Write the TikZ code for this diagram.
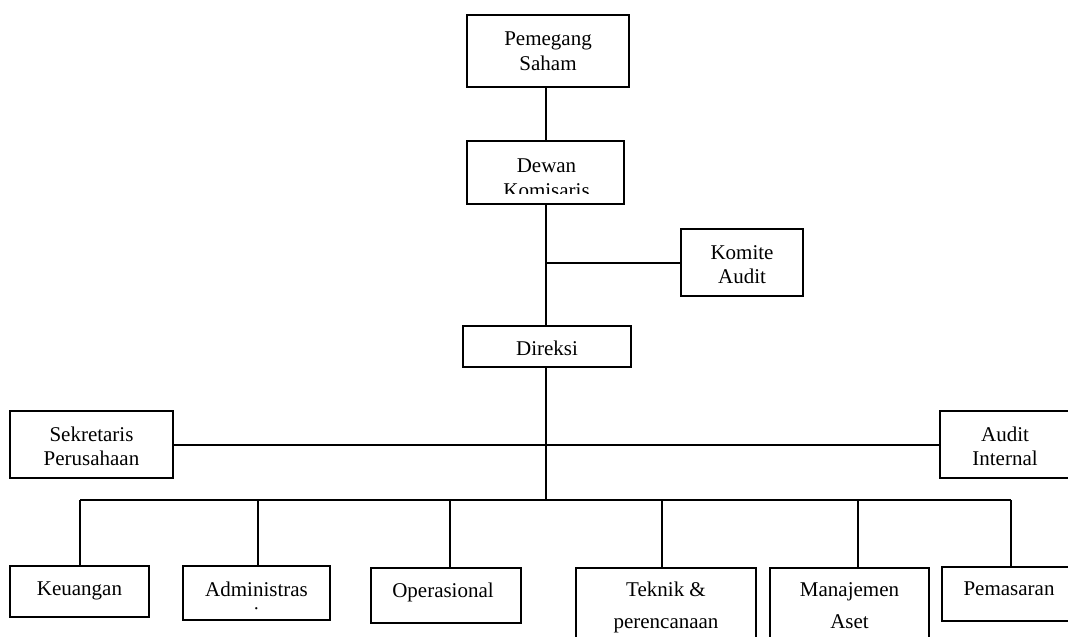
\documentclass[tikz,border=0pt]{standalone}
\usepackage{fontspec}
\setmainfont{Liberation Serif}
\begin{document}
\begin{tikzpicture}[x=1pt,y=-1pt,
  box/.style={draw,line width=2pt,rectangle,inner sep=0pt},
  wire/.style={line width=2pt},
  lbl/.style={align=center,inner sep=0pt,anchor=north,font=\fontsize{21}{#1}\selectfont},
  lbl/.default=24.5]
\useasboundingbox (0,0) rectangle (1068,637);
\clip (0,0) rectangle (1068,637);
\fill[white] (0,0) rectangle (1068,637);

% boxes
\node[box,minimum width=162pt,minimum height=72pt] (pem) at (548,51) {};
\node[box,minimum width=157pt,minimum height=63pt] (dew) at (545.5,172.5) {};
\node[box,minimum width=122pt,minimum height=67pt] (kom) at (742,262.5) {};
\node[box,minimum width=168pt,minimum height=41pt] (dir) at (547,346.5) {};
\node[box,minimum width=163pt,minimum height=67pt] (sek) at (91.5,444.5) {};
\node[box,minimum width=130pt,minimum height=67pt] (aud) at (1005,444.5) {};
\node[box,minimum width=139pt,minimum height=51pt] (keu) at (79.5,591.5) {};
\node[box,minimum width=147pt,minimum height=54pt] (adm) at (256.5,593) {};
\node[box,minimum width=150pt,minimum height=55pt] (ope) at (446,595.5) {};
\node[box,minimum width=180pt,minimum height=92pt] (tek) at (666,614) {};
\node[box,minimum width=159pt,minimum height=92pt] (man) at (849.5,614) {};
\node[box,minimum width=134pt,minimum height=54pt] (pmr) at (1009,594) {};

% labels
\node[lbl] (pemT) at ([yshift=-18pt]pem.north) {Pemegang\\Saham};
\begin{scope}
  \clip (467,141) rectangle (624,193);
  \node[lbl=25] (dewT) at ([yshift=-19pt,xshift=1pt]dew.north) {Dewan\\Komisaris};
\end{scope}
\node[lbl] (komT) at ([yshift=-17pt]kom.north) {Komite\\Audit};
\node[lbl] (dirT) at ([yshift=-16pt]dir.north) {Direksi};
\node[lbl=23.5] (sekT) at ([yshift=-17pt]sek.north) {Sekretaris\\Perusahaan};
\node[lbl=23.5] (audT) at ([yshift=-17pt]aud.north) {Audit\\Internal};
\node[lbl] (keuT) at ([yshift=-17pt]keu.north) {Keuangan};
\begin{scope}
  \clip (183,566) rectangle (330,610.5);
  \node[lbl=25] (admT) at ([yshift=-17pt]adm.north) {Administras\\i};
\end{scope}
\node[lbl] (opeT) at ([yshift=-16pt,xshift=-3pt]ope.north) {Operasional};
\node[lbl=32] (tekT) at ([yshift=-15pt]tek.north) {Teknik \&\\perencanaan};
\node[lbl=32] (manT) at ([yshift=-15pt]man.north) {Manajemen\\Aset};
\node[lbl] (pmrT) at ([yshift=-16pt]pmr.north) {Pemasaran};

% trunk and bus points
\coordinate (trunk) at (546,0);
\coordinate (d1) at (80,500);
\coordinate (d2) at (258,500);
\coordinate (d3) at (450,500);
\coordinate (d4) at (662,500);
\coordinate (d5) at (858,500);
\coordinate (d6) at (1011,500);

% connectors
\draw[wire] (pem.south -| trunk) -- (dew.north -| trunk);
\draw[wire] (dew.south -| trunk) -- (dir.north -| trunk);
\draw[wire] (kom.west) -- (kom.west -| trunk);
\draw[wire] (dir.south -| trunk) -- (d1 -| trunk);
\draw[wire] (sek.east) -- (aud.west);
\draw[wire] (d1) -- (d6);
\draw[wire] (d1) -- (d1 |- keu.north);
\draw[wire] (d2) -- (d2 |- adm.north);
\draw[wire] (d3) -- (d3 |- ope.north);
\draw[wire] (d4) -- (d4 |- tek.north);
\draw[wire] (d5) -- (d5 |- man.north);
\draw[wire] (d6) -- (d6 |- pmr.north);
\end{tikzpicture}
\end{document}
